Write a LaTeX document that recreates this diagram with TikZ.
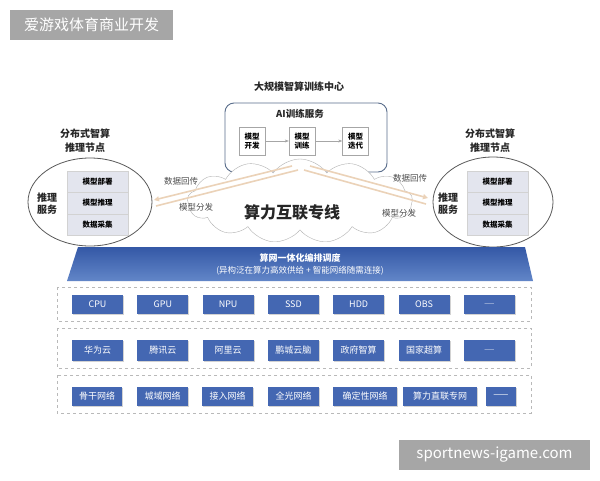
\documentclass[tikz,border=0pt]{standalone}
\usepackage{fontspec}
\setmainfont{Noto Sans CJK SC}
\usetikzlibrary{shapes.symbols,arrows.meta,shadows}
\definecolor{wmgray}{HTML}{A6A6A6}
\definecolor{bluebox}{HTML}{4467B2}
\definecolor{bannertop}{HTML}{3458A6}
\definecolor{bannerbot}{HTML}{6286C8}
\definecolor{graybox}{HTML}{E3E5EE}
\definecolor{linkcol}{HTML}{EBD2B8}
\definecolor{framecol}{HTML}{5A6E8C}
\begin{document}
\begin{tikzpicture}[x=1pt,y=-1pt,
  wm/.style={fill=wmgray,text=white,inner sep=0,font=\fontsize{15}{16}\selectfont},
  blk/.style={fill=bluebox,text=white,minimum height=19,inner sep=0,
    font=\fontsize{9}{10}\selectfont,
    drop shadow={opacity=0.35,shadow xshift=1pt,shadow yshift=-1.2pt}},
  rowframe/.style={draw=gray!55,dashed,line width=0.7pt},
  minibox/.style={draw=gray!70,fill=white,minimum width=26,minimum height=28,inner sep=0,
    font=\bfseries\fontsize{7.5}{9}\selectfont,align=center},
  grbox/.style={draw=gray!35,fill=graybox,minimum width=61,minimum height=21.5,inner sep=0,
    font=\bfseries\fontsize{7.5}{8}\selectfont},
  lbl/.style={font=\bfseries\fontsize{10}{14}\selectfont,align=center,text=black!85},
  small/.style={font=\fontsize{8.5}{9}\selectfont,text=black!70},
  link/.style={draw=linkcol,line width=1.6pt},
  linkarr/.style={link,-{Triangle[length=5pt,width=5pt]}},
  elli/.style={draw=black!65,line width=0.8pt}
]
\useasboundingbox (0,0) rectangle (600,480);
\fill[white] (0,0) rectangle (600,480);

% watermarks
\node[wm,minimum width=163,minimum height=30] (wmtl) at (91.5,25) {爱游戏体育商业开发};
\node[wm,minimum width=191,minimum height=30] (wmbr) at (494.5,455) {sportnews-igame.com};

% training centre
\node[lbl] (ttitle) at (299,87) {大规模智算训练中心};
\draw[framecol,line width=0.9pt,rounded corners=9pt] (225,103) rectangle (387,172);
\node[lbl,font=\bfseries\fontsize{9.5}{11}\selectfont] (aisvc) at (300,114) {AI训练服务};
\node[minibox] (m1) at (252,141) {模型\\开发};
\node[minibox] (m2) at (302,141) {模型\\训练};
\node[minibox] (m3) at (355.5,141) {模型\\迭代};
\draw[gray!70,-{Stealth[length=4pt]}] (m1) -- (m2);
\draw[gray!70,-{Stealth[length=4pt]}] (m2) -- (m3);

% cloud
\node[cloud,cloud puffs=13,cloud puff arc=110,aspect=3,draw=gray!60,fill=white,
  minimum width=225,minimum height=84] (cloud) at (300,201) {};
\node[font=\bfseries\fontsize{16}{18}\selectfont,text=black!85] (cloudtxt) at (292,212) {算力互联专线};

% left node
\node[lbl] (ltitle) at (85,141) {分布式智算\\推理节点};
\draw[elli] (90,202) ellipse [x radius=62,y radius=44];
\node[lbl,font=\bfseries\fontsize{10}{12}\selectfont] (lsvc) at (47,204) {推理\\服务};
\node[grbox] (lb1) at (97.5,181.5) {模型部署};
\node[grbox] (lb2) at (97.5,203) {模型推理};
\node[grbox] (lb3) at (97.5,224.5) {数据采集};

% right node
\node[lbl] (rtitle) at (490,141) {分布式智算\\推理节点};
\draw[elli] (493,202) ellipse [x radius=60,y radius=45];
\node[lbl,font=\bfseries\fontsize{10}{12}\selectfont] (rsvc) at (448,204) {推理\\服务};
\node[grbox] (rb1) at (497.5,181.5) {模型部署};
\node[grbox] (rb2) at (497.5,203) {模型推理};
\node[grbox] (rb3) at (497.5,224.5) {数据采集};

% links
\coordinate (lend1) at (154,200);
\coordinate (lend2) at (156,206);
\coordinate (ctop1) at (292,166);
\coordinate (ctop2) at (298,170);
\coordinate (rend1) at (428,198);
\coordinate (rend2) at (426,204);
\coordinate (ctop3) at (310,166);
\coordinate (ctop4) at (304,170);
\draw[linkarr] (ctop1) -- (lend1);
\draw[link] (lend2) -- (ctop2);
\draw[linkarr] (ctop3) -- (rend1);
\draw[link] (rend2) -- (ctop4);
\node[small] (l1) at (181,181) {数据回传};
\node[small] (l2) at (196,207) {模型分发};
\node[small] (r1) at (410,178) {数据回传};
\node[small] (r2) at (399,213) {模型分发};

% banner
\shade[top color=bannertop,bottom color=bannerbot] (78,247) -- (525,247) -- (533,281) -- (67,281) -- cycle;
\node[text=white,font=\bfseries\fontsize{9}{10}\selectfont] (b1) at (300,258) {算网一体化编排调度};
\node[text=white,font=\fontsize{8.5}{10}\selectfont] (b2) at (300,271) {(异构泛在算力高效供给 + 智能网络随需连接)};

% rows
\draw[rowframe] (57,287) rectangle (531,321);
\draw[rowframe] (57,328) rectangle (531,368);
\draw[rowframe] (57,375) rectangle (531,413);

\foreach \t [count=\i] in {CPU,GPU,NPU,SSD,HDD,OBS,{\fontsize{6}{6}\selectfont ——}}
  \node[blk,minimum width=51] (a\i) at ({97.5+65.3*(\i-1)},304.5) {\t};
\foreach \t [count=\i] in {华为云,腾讯云,阿里云,鹏城云脑,政府智算,国家超算,{\fontsize{6}{6}\selectfont ——}}
  \node[blk,minimum width=51,minimum height=21] (c\i) at ({97.5+65.3*(\i-1)},350.5) {\t};

\node[blk,minimum width=50] (n1) at (97,396) {骨干网络};
\node[blk,minimum width=51] (n2) at (162.5,396) {城域网络};
\node[blk,minimum width=51] (n3) at (227.5,396) {接入网络};
\node[blk,minimum width=51] (n4) at (293.5,396) {全光网络};
\node[blk,minimum width=64] (n5) at (365,396) {确定性网络};
\node[blk,minimum width=74] (n6) at (440,396) {算力直联专网};
\node[blk,minimum width=30] (n7) at (501,396) {——};
\end{tikzpicture}
\end{document}
